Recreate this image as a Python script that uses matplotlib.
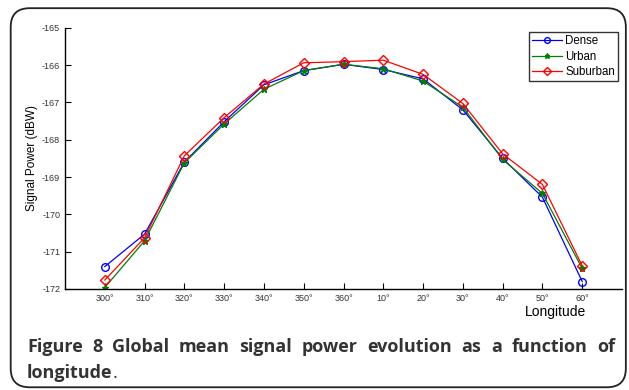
import matplotlib
matplotlib.use("Agg")
import matplotlib.pyplot as plt
from matplotlib.patches import FancyBboxPatch

# Longitude categories
longitudes = ["300°", "310°", "320°", "330°", "340°", "350°", "360°",
              "10°", "20°", "30°", "40°", "50°", "60°"]

# Signal power (dBW) per environment
dense = [-171.40, -170.53, -168.60, -167.52, -166.53, -166.15, -165.98,
         -166.12, -166.37, -167.20, -168.50, -169.54, -171.80]
urban = [-171.96, -170.71, -168.62, -167.58, -166.65, -166.15, -165.98,
         -166.10, -166.43, -167.13, -168.53, -169.44, -171.45]
suburban = [-171.76, -170.63, -168.43, -167.41, -166.51, -165.94, -165.91,
            -165.87, -166.25, -167.03, -168.38, -169.20, -171.38]

caption_line1 = "Figure 8 Global mean signal power evolution as a function of"
caption_line2 = "longitude"

plt.rcParams['font.family'] = ['Liberation Sans', 'DejaVu Sans']

W, H = 629, 390
fig = plt.figure(figsize=(W / 100, H / 100), dpi=100)

# rounded frame around figure + caption
frame = FancyBboxPatch((0.017, 0.007), 0.978, 0.972,
                       boxstyle="round,pad=0,rounding_size=0.03",
                       transform=fig.transFigure, fill=False,
                       edgecolor='#222222', linewidth=1.3, mutation_aspect=W / H)
fig.patches.append(frame)

ax = fig.add_axes([65 / W, 1 - 289 / H, 557 / W, 261.3 / H])
x = list(range(len(longitudes)))

ax.plot(x, dense, color='blue', marker='o', markerfacecolor='none',
        markersize=5.5, linewidth=0.9, label='Dense')
ax.plot(x, urban, color='green', marker='*', markersize=5,
        linewidth=0.9, label='Urban')
ax.plot(x, suburban, color='red', marker='D', markerfacecolor='none',
        markersize=5, linewidth=0.9, label='Suburban')

ax.set_xlim(-1, 13)
ax.set_ylim(-172, -165)
ax.set_xticks(x)
ax.set_xticklabels(longitudes, fontsize=6.5, color='#333333')
ax.set_yticks(range(-172, -164))
ax.set_yticklabels([str(v) for v in range(-172, -164)], fontsize=6.5, color='#333333')
ax.tick_params(direction='in', length=4, width=0.8)
ax.spines['top'].set_visible(False)
ax.spines['right'].set_visible(False)
for s in ('left', 'bottom'):
    ax.spines[s].set_linewidth(1.0)

ax.set_ylabel('Signal Power (dBW)', fontsize=8.5)
ax.yaxis.set_label_coords(-0.0485, 0.5)
fig.text(555 / W, 1 - 312 / H, 'Longitude', fontsize=10, ha='center', va='center')

leg = ax.legend(loc='upper right', bbox_to_anchor=(0.993, 0.983), fontsize=8.3,
                frameon=True, fancybox=False, edgecolor='black',
                borderpad=0.25, labelspacing=0.32, handlelength=2.6,
                handletextpad=0.3, borderaxespad=0, markerscale=0.75)
leg.get_frame().set_linewidth(1.0)

# caption, justified on line 1
cap_kw = dict(fontsize=13, color='#333333', family=['Open Sans', 'DejaVu Sans'],
              fontweight='bold', va='baseline', ha='left')
x0, x1 = 27, 615
words = caption_line1.split()
texts = [fig.text(0, 1 - 352 / H, w, **cap_kw) for w in words]
fig.canvas.draw()
r = fig.canvas.get_renderer()
widths = [t.get_window_extent(r).width for t in texts]
gap = (x1 - x0 - sum(widths)) / (len(words) - 1)
pos = x0
for t, w in zip(texts, widths):
    t.set_x(pos / W)
    pos += w + gap

t2 = fig.text(x0 / W, 1 - 378 / H, caption_line2, **cap_kw)
fig.canvas.draw()
bb = t2.get_window_extent(r)
cap_kw['fontweight'] = 'normal'
fig.text(bb.x1 / W, 1 - 378 / H, '.', **cap_kw)

fig.savefig('out.png', dpi=100)
